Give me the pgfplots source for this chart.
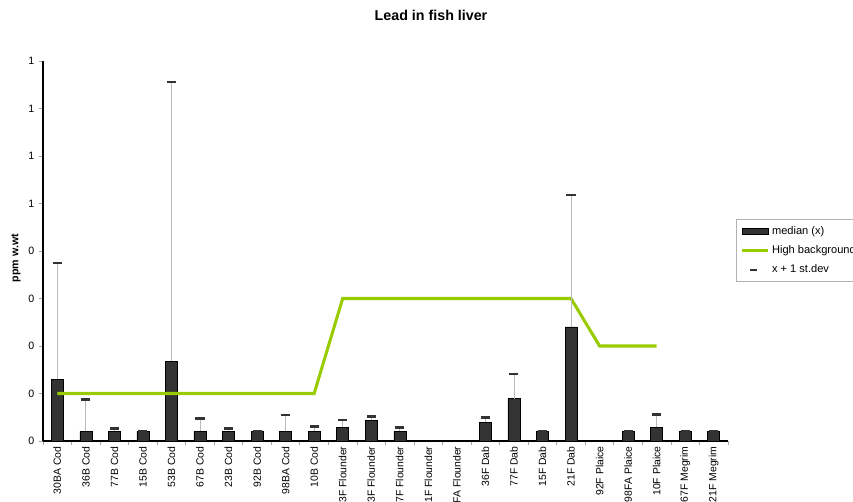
\documentclass[border=0pt]{standalone}
\usepackage{pgfplots}
\pgfplotsset{compat=1.18}
\usepackage{pgfplotstable}
\usepackage{fontspec}
\setmainfont{Liberation Sans}
\definecolor{bardark}{HTML}{333333}
\definecolor{limeg}{HTML}{99CC00}

\pgfplotstableread{
idx med sd bg
0 0.130 0.375 0.1
1 0.020 0.088 0.1
2 0.020 0.026 0.1
3 0.020 0.020 0.1
4 0.168 0.756 0.1
5 0.020 0.048 0.1
6 0.020 0.027 0.1
7 0.020 0.020 0.1
8 0.020 0.055 0.1
9 0.020 0.031 0.1
10 0.029 0.044 0.3
11 0.0435 0.051 0.3
12 0.020 0.028 0.3
13 nan nan 0.3
14 nan nan 0.3
15 0.039 0.050 0.3
16 0.089 0.141 0.3
17 0.020 0.020 0.3
18 0.240 0.518 0.3
19 nan nan 0.2
20 0.020 0.020 0.2
21 0.029 0.056 0.2
22 0.020 0.020 nan
23 0.020 0.020 nan
}\datatable

\begin{document}
\begin{tikzpicture}[x=1pt,y=1pt]
\begin{axis}[
  scale only axis, width=513.75pt, height=285pt,
  xmin=-0.5, xmax=23.5, ymin=0, ymax=0.8,
  axis lines*=left,
  axis line style={black, line width=0.9pt},
  tick align=outside,
  major tick length=3pt,
  tick style={gray!70, line width=0.6pt},
  xtick={-0.5,0.5,...,23.5}, xticklabels={},
  extra x ticks={0,...,23},
  extra x tick labels={30BA Cod,36B Cod,77B Cod,15B Cod,53B Cod,67B Cod,23B Cod,92B Cod,98BA Cod,10B Cod,33F Flounder,53F Flounder,67F Flounder,21F Flounder,98FA Flounder,36F Dab,77F Dab,15F Dab,21F Dab,92F Plaice,98FA Plaice,10F Plaice,67F Megrim,21F Megrim},
  extra x tick style={major tick length=0pt},
  x tick label style={yshift=-3pt, rotate=90, anchor=east, font=\fontsize{7.8}{9}\selectfont, inner sep=1pt},
  ytick={0,0.1,...,0.8},
  yticklabels={0,0,0,0,0,1,1,1,1},
  y tick label style={font=\fontsize{8}{9}\selectfont},
  legend style={at={(rel axis cs:1.0117,0.584)}, anchor=north west, draw=gray!60, line width=0.5pt,
    font=\fontsize{8.3}{9}\selectfont, row sep=3pt, inner xsep=3pt, inner ysep=3pt, cells={anchor=west}},
  legend cell align=left,
]
\addplot[ybar, bar width=9pt, fill=bardark, draw=black, line width=0.4pt,
  legend image code/.code={\draw[fill=bardark,draw=black] (0pt,-2.2pt) rectangle (19.5pt,2.2pt);}]
  table[x=idx, y=med] {\datatable};
\addlegendentry{median (x)}
\addplot[limeg, line width=2.3pt, no marks,
  legend image code/.code={\draw[limeg, line width=2.3pt] (0pt,0pt) -- (19.5pt,0pt);}]
  table[x=idx, y=bg] {\datatable};
\addlegendentry{High background}
\addplot[only marks, mark=-, mark size=3.4pt, mark options={draw=bardark, line width=2pt},
  error bars/.cd, y dir=minus, y explicit, error mark=none,
  error bar style={gray!55, line width=0.6pt},
  /pgfplots/legend image code/.code={\draw[bardark, line width=1.5pt] (6pt,0pt) -- (11pt,0pt);}]
  table[x=idx, y=sd, y error expr=\thisrow{sd}-\thisrow{med}] {\datatable};
\addlegendentry{x + 1 st.dev}
\end{axis}
\node[font=\bfseries\fontsize{10.7}{12}\selectfont] at (291,319.5) {Lead in fish liver};
\node[font=\bfseries\fontsize{8}{9}\selectfont, rotate=90] at (-20.25,137.25) {ppm w.wt};
\pgfresetboundingbox
\useasboundingbox (-32.25,-45.75) rectangle (607.5,330.75);
\end{tikzpicture}
\end{document}
